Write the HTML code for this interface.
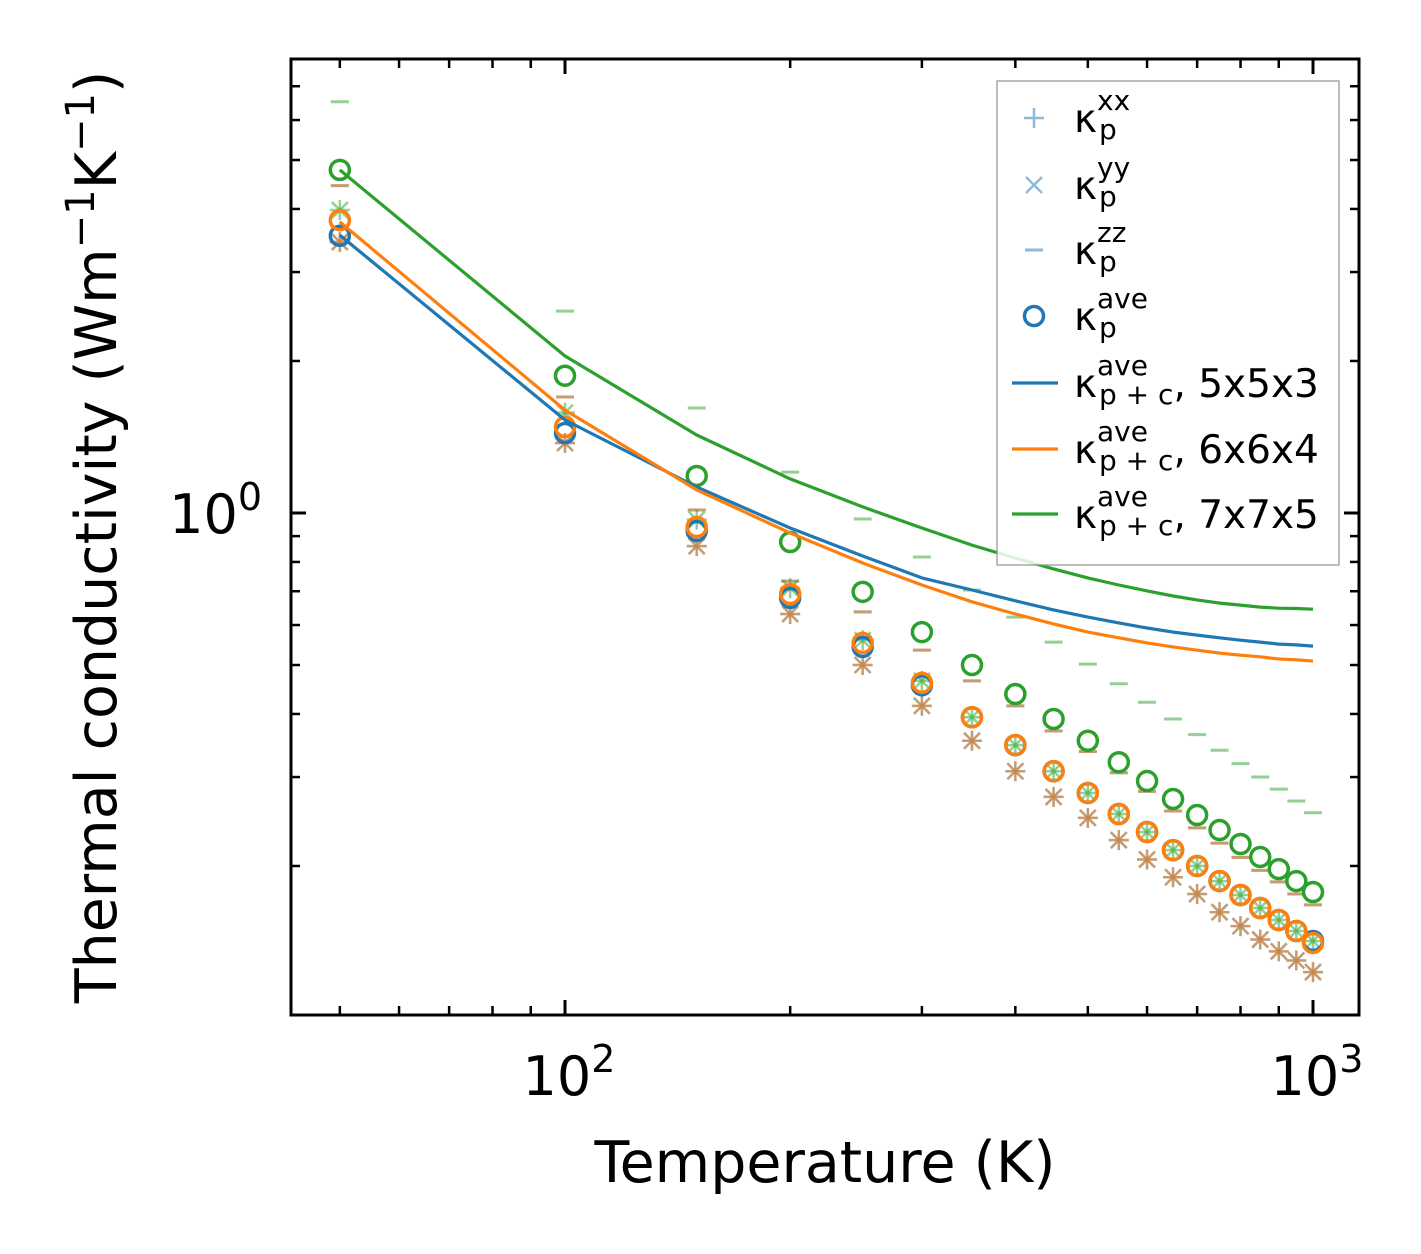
<!DOCTYPE html>
<html><head><meta charset="utf-8"><style>
html,body{margin:0;padding:0;background:#fff;}
svg{display:block;font-family:"DejaVu Sans","Liberation Sans",sans-serif;}
</style></head><body>
<svg id="chart" width="1421" height="1254" viewBox="0 0 1421 1254" xmlns="http://www.w3.org/2000/svg">
<rect x="0" y="0" width="1421" height="1254" fill="#fff"/>
<g id="plot"></g>
<g id="frame"></g>
<g id="legend"></g>
<text x="825" y="1182" font-size="57" text-anchor="middle">Temperature (K)</text>
<text transform="translate(116,537) rotate(-90)" font-size="57" text-anchor="middle">Thermal conductivity (Wm<tspan font-size="40" dy="-22">−1</tspan><tspan dy="22">K</tspan><tspan font-size="40" dy="-22">−1</tspan><tspan dy="22">)</tspan></text>
</svg>
<script>
const temps=[50,100,150,200,250,300,350,400,450,500,550,600,650,700,750,800,850,900,950,1000];
const blueAve=[3.54,1.44,0.921,0.679,0.543,0.456,0.394,0.347,0.308,0.279,0.2535,0.2335,0.215,0.200,0.1867,0.1752,0.1651,0.1563,0.1487,0.1421];
const orangeAve=[3.80,1.48,0.938,0.691,0.553,0.461,0.394,0.347,0.308,0.279,0.2535,0.2335,0.215,0.200,0.1867,0.1752,0.1651,0.1563,0.1487,0.1408];
const greenAve=[4.78,1.87,1.184,0.876,0.698,0.581,0.500,0.438,0.391,0.354,0.321,0.2946,0.2715,0.2523,0.2356,0.2211,0.2084,0.1972,0.1867,0.1776];
const blueLine=[3.55,1.528,1.126,0.934,0.822,0.744,0.704,0.670,0.643,0.622,0.606,0.592,0.581,0.573,0.566,0.560,0.555,0.550,0.548,0.545];
const orangeLine=[3.77,1.599,1.111,0.913,0.796,0.720,0.667,0.631,0.603,0.581,0.566,0.553,0.543,0.535,0.528,0.523,0.519,0.514,0.512,0.509];
const greenLine=[4.78,2.046,1.427,1.168,1.028,0.934,0.864,0.814,0.775,0.744,0.720,0.701,0.685,0.673,0.663,0.657,0.651,0.648,0.647,0.645];
const boXY=[3.44,1.376,0.860,0.631,0.500,0.415,0.354,0.308,0.274,0.249,0.225,0.206,0.190,0.176,0.162,0.152,0.143,0.1355,0.130,0.1233];
const boZZ=[4.45,1.697,1.014,0.733,0.637,0.535,0.465,0.415,0.370,0.337,0.306,0.281,0.257,0.238,0.222,0.208,0.196,0.186,0.176,0.1675];
const gXY=[3.98,1.58,0.97,0.71,0.56,0.465,0.394,0.347,0.308,0.279,0.2535,0.2335,0.215,0.200,0.1867,0.1752,0.1651,0.1563,0.1487,0.1421];
const gZZ=[6.52,2.51,1.614,1.205,0.973,0.818,0.704,0.622,0.555,0.502,0.459,0.422,0.391,0.364,0.339,0.319,0.300,0.284,0.269,0.255];
const xMinor=[50,60,70,80,90,200,300,400,500,600,700,800,900];
const xMajor=[100,1000];
const yMinor=[0.2,0.3,0.4,0.5,0.6,0.7,0.8,0.9,2,3,4,5,6,7];
const yMajor=[1];

const L=291,R=1359,T=59,B=1015;
function X(t){return 565+748*Math.log10(t/100);}
function Y(v){return 513-505*Math.log10(v);}
const NS="http://www.w3.org/2000/svg";
function mk(tag,attrs,parent){const e=document.createElementNS(NS,tag);for(const k in attrs)e.setAttribute(k,attrs[k]);parent.appendChild(e);return e;}
const plot=document.getElementById('plot');
const C={b:'#1f77b4',o:'#ff7f0e',g:'#2ca02c'};

function plus(x,y,c,p,name){const g=mk('g',{stroke:c,'stroke-width':2.5,opacity:0.5},p);


mk('line',{x1:x-10,y1:y,x2:x+10,y2:y},g);mk('line',{x1:x,y1:y-10,x2:x,y2:y+10},g);}
function cross(x,y,c,p,name){const g=mk('g',{stroke:c,'stroke-width':2.5,opacity:0.5},p);


mk('line',{x1:x-8,y1:y-8,x2:x+8,y2:y+8},g);mk('line',{x1:x-8,y1:y+8,x2:x+8,y2:y-8},g);}
function dash(x,y,c,p,name){const e=mk('line',{x1:x-9,y1:y,x2:x+9,y2:y,stroke:c,'stroke-width':3,opacity:0.5},p);

}
function circ(x,y,c,p,name){const e=mk('circle',{cx:x,cy:y,r:9.5,fill:'none',stroke:c,'stroke-width':3.5},p);

}

const cl=mk('clipPath',{id:'cp'},plot);mk('rect',{x:L,y:T,width:R-L,height:B-T},cl);
const pg=mk('g',{'clip-path':'url(#cp)'},plot);
const sets=[['b',boXY,boZZ,blueAve],['o',boXY,boZZ,orangeAve],['g',gXY,gZZ,greenAve]];
sets.forEach(([k,xy,zz,ave])=>{
  temps.forEach((t,i)=>{
    const x=X(t);
    plus(x,Y(xy[i]),C[k],pg,'kappa-xx-point');
    cross(x,Y(xy[i]),C[k],pg,'kappa-yy-point');
    dash(x,Y(zz[i]),C[k],pg,'kappa-zz-point');
  });
});
sets.forEach(([k,xy,zz,ave])=>{temps.forEach((t,i)=>circ(X(t),Y(ave[i]),C[k],pg,'kappa-ave-point'));});
[[blueLine,'b','line-5x5x3'],[orangeLine,'o','line-6x6x4'],[greenLine,'g','line-7x7x5']].forEach(([arr,k,n])=>{
  const d=arr.map((v,i)=>(i?'L':'M')+X(temps[i]).toFixed(1)+','+Y(v).toFixed(1)).join('');
  const p=mk('path',{d:d,fill:'none',stroke:C[k],'stroke-width':3.2,'stroke-linejoin':'round'},pg);
  
  
});

const fr=document.getElementById('frame');
const box=mk('rect',{x:L,y:T,width:R-L,height:B-T,fill:'none',stroke:'#000','stroke-width':3},fr);


function tk(x1,y1,x2,y2,w){mk('line',{x1,y1,x2,y2,stroke:'#000','stroke-width':w},fr);}
xMinor.forEach(t=>{const x=X(t);tk(x,B,x,B-9,2.5);tk(x,T,x,T+9,2.5);});
xMajor.forEach(t=>{const x=X(t);tk(x,B,x,B-15,3);tk(x,T,x,T+15,3);});
yMinor.forEach(v=>{const y=Y(v);tk(L,y,L+9,y,2.5);tk(R,y,R-9,y,2.5);});
yMajor.forEach(v=>{const y=Y(v);tk(L,y,L+15,y,3);tk(R,y,R-15,y,3);});
function pw(x,y,exp,anchor,name){const t=mk('text',{x,y,'font-size':54,'text-anchor':anchor},fr);


t.innerHTML='10<tspan font-size="38" dy="-23">'+exp+'</tspan>';}
pw(X(100)+4,1095,'2','middle','x-tick-label-100');
pw(X(1000)+4,1095,'3','middle','x-tick-label-1000');
pw(262,533,'0','end','y-tick-label-1');

const lg=document.getElementById('legend');
mk('rect',{x:997,y:81,width:342,height:484,fill:'#fff',stroke:'#999','stroke-width':1.5,opacity:0.85},lg);
const rows=[['xx','p','',0],['yy','p','',1],['zz','p','',2],['ave','p','',3],['ave','p + c',', 5x5x3',4],['ave','p + c',', 6x6x4',5],['ave','p + c',', 7x7x5',6]];
const rowY=[118,185,250,316,383,449,514];
rows.forEach(([sup,sub,tail,i])=>{
  const y=rowY[i];const g=mk('g',{},lg);
  
  
  const mx=1034;
  if(i===0)plus(mx,y,C.b,g,'legend-marker-xx');
  else if(i===1)cross(mx,y,C.b,g,'legend-marker-yy');
  else if(i===2)dash(mx,y,C.b,g,'legend-marker-zz');
  else if(i===3)circ(mx,y,C.b,g,'legend-marker-ave');
  else mk('line',{x1:1012,y1:y,x2:1058,y2:y,stroke:[C.b,C.o,C.g][i-4],'stroke-width':3.2},g);
  const t=mk('text',{x:1074,y:y+14,'font-size':39},g);
  t.innerHTML='κ<tspan font-size="28" dy="-22">'+sup+'</tspan><tspan font-size="28" x="1099" dy="29">'+sub+'</tspan><tspan dy="-7">'+tail+'</tspan>';
});
</script>
</body></html>
